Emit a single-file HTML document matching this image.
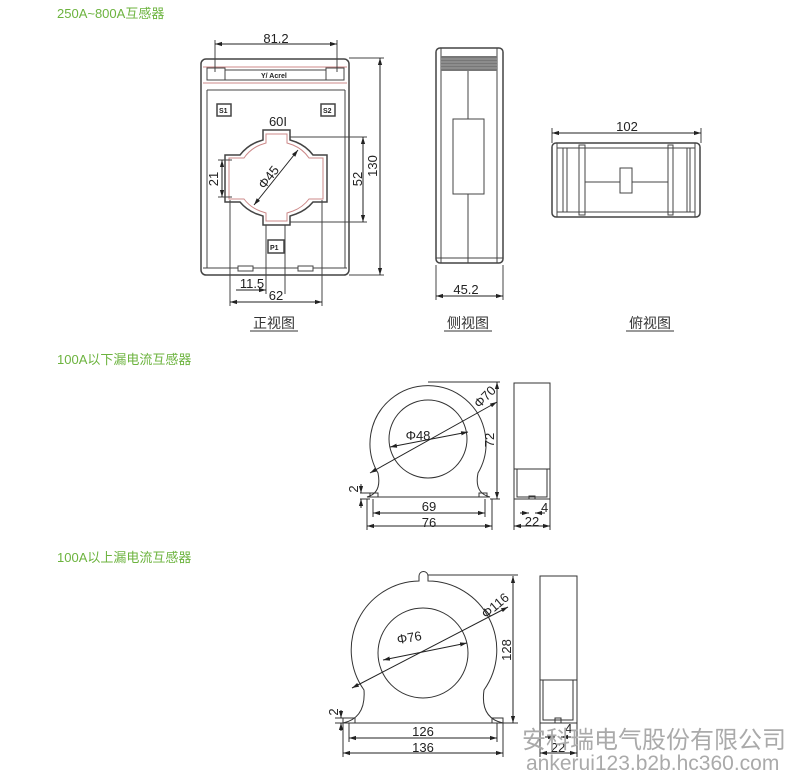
<!DOCTYPE html>
<html><head><meta charset="utf-8">
<style>
html,body{margin:0;padding:0;background:#fff;}
svg{display:block;}
.h{font-family:"Liberation Sans","Noto Sans CJK SC",sans-serif;font-size:13px;fill:#6cb33e;}
.t{font-family:"Liberation Sans","Noto Sans CJK SC",sans-serif;font-size:13px;fill:#222;}
.c{font-family:"Liberation Sans","Noto Sans CJK SC",sans-serif;font-size:14px;fill:#333;}
.w{font-family:"Liberation Sans","Noto Sans CJK SC",sans-serif;fill:#aaa;}
.s{font-family:"Liberation Sans",sans-serif;font-size:7px;font-weight:bold;fill:#222;}
</style></head><body>
<svg width="790" height="772" viewBox="0 0 790 772" xmlns="http://www.w3.org/2000/svg">
<defs>
<marker id="a" viewBox="0 0 10 10" refX="10" refY="5" markerWidth="7" markerHeight="7" orient="auto-start-reverse"><path d="M0,2 L10,5 L0,8 z" fill="#222"/></marker>
</defs>
<text class="h" x="57" y="18">250A~800A互感器</text>
<text class="h" x="57" y="364">100A以下漏电流互感器</text>
<text class="h" x="57" y="562">100A以上漏电流互感器</text>

<g fill="none" stroke="#444" stroke-width="1">
<rect x="201" y="59" width="148" height="216" rx="5" stroke-width="1.5"/>
<line x1="203" y1="67" x2="347" y2="67" stroke="#c88"/>
<line x1="203" y1="83" x2="347" y2="83" stroke="#c88"/>
<line x1="225" y1="70" x2="326" y2="70"/>
<line x1="225" y1="80" x2="326" y2="80"/>
<rect x="207" y="68" width="18" height="12"/><rect x="326" y="68" width="18" height="12"/>
<line x1="207" y1="90" x2="345" y2="90"/>
<line x1="207" y1="90" x2="207" y2="268"/><line x1="345" y1="90" x2="345" y2="268"/>
<line x1="203" y1="268" x2="347" y2="268"/>
<rect x="238" y="266" width="15" height="5" fill="#fff"/><rect x="298" y="266" width="15" height="5" fill="#fff"/>
<rect x="217" y="104" width="14" height="12" stroke-width="1.5"/>
<rect x="321" y="104" width="14" height="12" stroke-width="1.5"/>
<rect x="268" y="240" width="16" height="13" stroke-width="1.5"/>
<path d="M263,130 H290 V140 L296,142 A40,40 0 0 1 313,155 H327 V202 H313 A40,40 0 0 1 296,214 L290,216 V225 H263 V216 L257,214 A40,40 0 0 1 240,202 H225 V155 H240 A40,40 0 0 1 257,142 L263,140 Z" stroke-width="1.5"/>
<path d="M266,134 H287 V143 L293,145 A36,36 0 0 1 309,158 H323 V199 H309 A36,36 0 0 1 293,211 L287,213 V221 H266 V213 L260,211 A36,36 0 0 1 244,199 H229 V158 H244 A36,36 0 0 1 260,145 L266,143 Z" stroke="#c88"/>
<line x1="215" y1="40" x2="215" y2="72"/><line x1="337" y1="40" x2="337" y2="72"/>
<line x1="290" y1="137" x2="367" y2="137"/><line x1="290" y1="222" x2="367" y2="222"/>
<line x1="349" y1="58" x2="384" y2="58"/><line x1="349" y1="275" x2="384" y2="275"/>
<line x1="218" y1="160" x2="232" y2="160"/><line x1="218" y1="197" x2="232" y2="197"/>
<line x1="230" y1="200" x2="230" y2="306"/><line x1="322" y1="200" x2="322" y2="306"/>
<line x1="266" y1="225" x2="266" y2="294"/><line x1="285" y1="225" x2="285" y2="294"/>
</g>
<g stroke="#222" stroke-width="1" fill="none">
<line x1="215" y1="44" x2="337" y2="44" marker-start="url(#a)" marker-end="url(#a)"/>
<line x1="363" y1="137" x2="363" y2="222" marker-start="url(#a)" marker-end="url(#a)"/>
<line x1="380" y1="58" x2="380" y2="275" marker-start="url(#a)" marker-end="url(#a)"/>
<line x1="222" y1="160" x2="222" y2="197" marker-start="url(#a)" marker-end="url(#a)"/>
<line x1="230" y1="302" x2="322" y2="302" marker-start="url(#a)" marker-end="url(#a)"/>
<line x1="236" y1="290" x2="266" y2="290" marker-end="url(#a)"/>
<line x1="254" y1="205" x2="298" y2="150" marker-start="url(#a)" marker-end="url(#a)"/>
</g>
<text class="t" x="276" y="43" text-anchor="middle">81.2</text>
<text class="t" x="278" y="126" text-anchor="middle">60I</text>
<text class="t" transform="translate(362,179) rotate(-90)" text-anchor="middle">52</text>
<text class="t" transform="translate(377,166) rotate(-90)" text-anchor="middle">130</text>
<text class="t" transform="translate(218,179) rotate(-90)" text-anchor="middle">21</text>
<text class="t" transform="translate(272,180) rotate(-52)" text-anchor="middle">Φ45</text>
<text class="t" x="252" y="288" text-anchor="middle">11.5</text>
<text class="t" x="276" y="300" text-anchor="middle">62</text>
<text class="s" x="219" y="113">S1</text>
<text class="s" x="323" y="113">S2</text>
<text class="s" x="270" y="250">P1</text>
<text class="s" x="261" y="78">Y/ Acrel</text>
<text class="c" x="274" y="328" text-anchor="middle">正视图</text>
<line x1="250" y1="331" x2="298" y2="331" stroke="#333"/>

<g fill="none" stroke="#444">
<rect x="436" y="48" width="67" height="215" rx="4" stroke-width="1.5"/>
<line x1="441" y1="48" x2="441" y2="263"/><line x1="497" y1="48" x2="497" y2="263"/>
<line x1="436" y1="258" x2="503" y2="258"/>
<line x1="468" y1="71" x2="468" y2="119"/><line x1="468" y1="194" x2="468" y2="263"/>
<rect x="453" y="119" width="31" height="75"/>
<line x1="436" y1="265" x2="436" y2="300"/><line x1="503" y1="265" x2="503" y2="300"/>
</g>
<rect x="441" y="56" width="56" height="15" fill="#777"/>
<g stroke="#ccc" stroke-width="0.6"><line x1="441" y1="59" x2="497" y2="59"/><line x1="441" y1="62" x2="497" y2="62"/><line x1="441" y1="65" x2="497" y2="65"/><line x1="441" y1="68" x2="497" y2="68"/></g>
<line x1="436" y1="296" x2="503" y2="296" stroke="#222" marker-start="url(#a)" marker-end="url(#a)"/>
<text class="t" x="466" y="294" text-anchor="middle">45.2</text>
<text class="c" x="468" y="328" text-anchor="middle">侧视图</text>
<line x1="444" y1="331" x2="492" y2="331" stroke="#333"/>

<g fill="none" stroke="#444">
<rect x="552" y="143" width="148" height="74" rx="4" stroke-width="1.5"/>
<line x1="557" y1="143" x2="557" y2="217"/><line x1="563" y1="148" x2="563" y2="212"/><line x1="567" y1="148" x2="567" y2="212"/>
<line x1="557" y1="148" x2="695" y2="148"/><line x1="557" y1="212" x2="695" y2="212"/>
<rect x="579" y="145" width="6" height="70"/><rect x="668" y="145" width="5" height="70"/>
<line x1="687" y1="148" x2="687" y2="212"/><line x1="690" y1="148" x2="690" y2="212"/><line x1="695" y1="143" x2="695" y2="217"/>
<line x1="585" y1="182" x2="668" y2="182"/>
<rect x="620" y="168" width="12" height="25" fill="#fff"/>
<line x1="552" y1="128" x2="552" y2="143"/><line x1="701" y1="128" x2="701" y2="143"/>
</g>
<line x1="552" y1="133" x2="701" y2="133" stroke="#222" marker-start="url(#a)" marker-end="url(#a)"/>
<text class="t" x="627" y="131" text-anchor="middle">102</text>
<text class="c" x="650" y="328" text-anchor="middle">俯视图</text>
<line x1="626" y1="331" x2="674" y2="331" stroke="#333"/>

<g fill="none" stroke="#333" stroke-width="1">
<path d="M378,473 A58,58 0 1 1 478,473 Q474,493 490,497 L367,497 Q382,493 378,473 Z"/>
<circle cx="428" cy="439" r="39"/>
<rect x="370" y="493" width="8" height="4"/><rect x="479" y="493" width="8" height="4"/>
<line x1="428" y1="382" x2="500" y2="382"/><line x1="490" y1="499" x2="500" y2="499"/>
<line x1="367" y1="499" x2="367" y2="530"/><line x1="492" y1="499" x2="492" y2="530"/>
<line x1="373" y1="499" x2="373" y2="517"/><line x1="485" y1="499" x2="485" y2="517"/>
<line x1="360" y1="493" x2="370" y2="493"/><line x1="360" y1="499" x2="370" y2="499"/>
<rect x="514" y="383" width="36" height="116"/>
<line x1="514" y1="469" x2="550" y2="469"/>
<rect x="517" y="469" width="30" height="28"/>
<rect x="529" y="496" width="6" height="3"/>
<line x1="514" y1="499" x2="514" y2="530"/><line x1="550" y1="499" x2="550" y2="530"/>
</g>
<g stroke="#222" fill="none">
<line x1="497" y1="382" x2="497" y2="499" marker-start="url(#a)" marker-end="url(#a)"/>
<line x1="373" y1="513" x2="485" y2="513" marker-start="url(#a)" marker-end="url(#a)"/>
<line x1="367" y1="526" x2="492" y2="526" marker-start="url(#a)" marker-end="url(#a)"/>
<line x1="514" y1="526" x2="550" y2="526" marker-start="url(#a)" marker-end="url(#a)"/>
<line x1="520" y1="513" x2="529" y2="513" marker-end="url(#a)"/><line x1="545" y1="513" x2="535" y2="513" marker-end="url(#a)"/>
<line x1="370" y1="473" x2="497" y2="402" marker-start="url(#a)" marker-end="url(#a)"/>
<line x1="390" y1="447" x2="468" y2="432" marker-start="url(#a)" marker-end="url(#a)"/>
<line x1="361" y1="484" x2="361" y2="493" marker-end="url(#a)"/><line x1="361" y1="508" x2="361" y2="499" marker-end="url(#a)"/>
</g>
<text class="t" transform="translate(488,400) rotate(-45)" text-anchor="middle">Φ70</text>
<text class="t" x="418" y="440" text-anchor="middle">Φ48</text>
<text class="t" transform="translate(494,440) rotate(-90)" text-anchor="middle">72</text>
<text class="t" x="429" y="511" text-anchor="middle">69</text>
<text class="t" x="429" y="527" text-anchor="middle">76</text>
<text class="t" x="532" y="526" text-anchor="middle">22</text>
<text class="t" x="541" y="512">4</text>
<text class="t" transform="translate(358,489) rotate(-90)" text-anchor="middle">2</text>

<g fill="none" stroke="#333" stroke-width="1">
<path d="M419,581 V576 A4,4 0 0 1 428,576 V581 A69,69 0 0 1 484,690 Q480,718 503,723 L343,723 Q366,718 364,690 A69,69 0 0 1 419,581 Z"/>
<circle cx="423" cy="653" r="45"/>
<rect x="343" y="718" width="12" height="5"/><rect x="492" y="718" width="11" height="5"/>
<line x1="428" y1="575" x2="518" y2="575"/><line x1="503" y1="723" x2="518" y2="723"/>
<line x1="343" y1="723" x2="343" y2="757"/><line x1="503" y1="723" x2="503" y2="757"/>
<line x1="349" y1="723" x2="349" y2="742"/><line x1="497" y1="723" x2="497" y2="742"/>
<line x1="335" y1="718" x2="343" y2="718"/><line x1="335" y1="723" x2="343" y2="723"/>
<rect x="540" y="576" width="37" height="147"/>
<line x1="540" y1="680" x2="577" y2="680"/>
<rect x="543" y="680" width="30" height="40"/>
<rect x="555" y="718" width="6" height="5"/>
<line x1="540" y1="723" x2="540" y2="757"/><line x1="577" y1="723" x2="577" y2="757"/>
</g>
<g stroke="#222" fill="none">
<line x1="513" y1="576" x2="513" y2="723" marker-start="url(#a)" marker-end="url(#a)"/>
<line x1="349" y1="738" x2="497" y2="738" marker-start="url(#a)" marker-end="url(#a)"/>
<line x1="343" y1="753" x2="503" y2="753" marker-start="url(#a)" marker-end="url(#a)"/>
<line x1="540" y1="753" x2="577" y2="753" marker-start="url(#a)" marker-end="url(#a)"/>
<line x1="545" y1="737" x2="555" y2="737" marker-end="url(#a)"/><line x1="571" y1="737" x2="561" y2="737" marker-end="url(#a)"/>
<line x1="352" y1="688" x2="508" y2="607" marker-start="url(#a)" marker-end="url(#a)"/>
<line x1="383" y1="660" x2="467" y2="643" marker-start="url(#a)" marker-end="url(#a)"/>
<line x1="341" y1="710" x2="341" y2="718" marker-end="url(#a)"/><line x1="341" y1="731" x2="341" y2="723" marker-end="url(#a)"/>
</g>
<text class="t" transform="translate(498,609) rotate(-40)" text-anchor="middle">Φ116</text>
<text class="t" transform="translate(410,642) rotate(-10)" text-anchor="middle">Φ76</text>
<text class="t" transform="translate(511,650) rotate(-90)" text-anchor="middle">128</text>
<text class="t" x="423" y="736" text-anchor="middle">126</text>
<text class="t" x="423" y="752" text-anchor="middle">136</text>
<text class="t" x="558" y="752" text-anchor="middle">22</text>
<text class="t" x="565" y="733">4</text>
<text class="t" transform="translate(338,712) rotate(-90)" text-anchor="middle">2</text>

<text class="w" x="522" y="748" style="font-size:24px">安科瑞电气股份有限公司</text>
<text class="w" x="526" y="770" style="font-size:21px">ankerui123.b2b.hc360.com</text>
</svg>
</body></html>
